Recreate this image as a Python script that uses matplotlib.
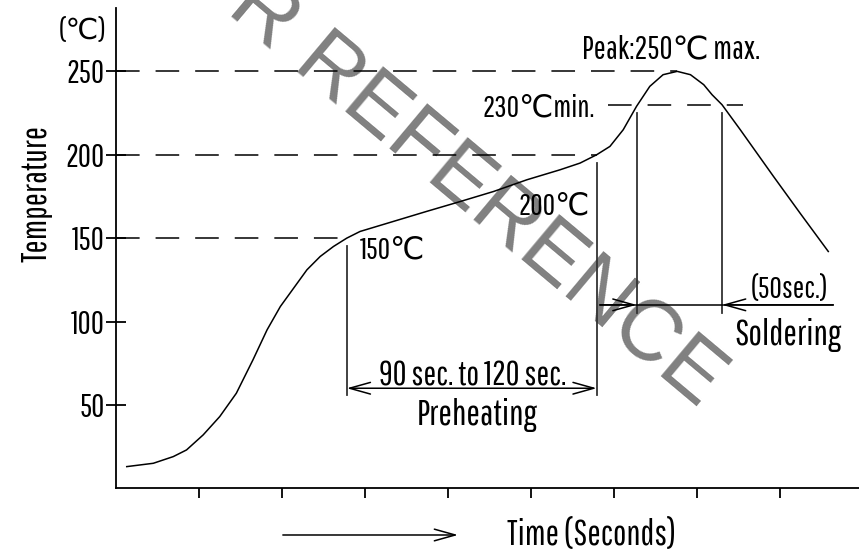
import matplotlib
matplotlib.use('Agg')
import matplotlib.pyplot as plt

# narrow monoline face like the drawing; later names only supply the ℃ sign
plt.rcParams['font.family'] = ['Pathway Gothic One', 'Fira Sans Extra Condensed',
                               'Sofia Sans Extra Condensed', 'Saira ExtraCondensed',
                               'Barlow Condensed', 'IBM Plex Sans Condensed', 'DejaVu Sans']
plt.rcParams['lines.scale_dashes'] = False

# reflow profile (time in tick units, temp in deg C)
time_pts = [0.13, 0.45, 0.69, 0.85, 1.05, 1.25, 1.45, 1.65, 1.82, 1.98,
            2.14, 2.30, 2.46, 2.62, 2.78, 2.94, 3.34, 3.74, 4.15, 4.55,
            4.95, 5.35, 5.59, 5.79, 5.95, 6.11, 6.27, 6.43, 6.59, 6.76,
            6.92, 7.08, 7.18, 7.30, 7.52, 7.92, 8.24, 8.58]
temp_pts = [13, 15, 19, 23, 32, 43, 57, 77, 95, 109,
            120, 131, 139, 145, 150, 154, 160, 166, 172, 178,
            185, 191, 195, 200, 205, 215, 229, 241, 248, 250,
            248, 242, 236, 230, 215, 187, 165, 142]

y_ticks = [50, 100, 150, 200, 250]
x_ticks = [1, 2, 3, 4, 5, 6, 7, 8]

# guide levels: (temp, x start, x end)
guides = [(250, 0, 6.76), (200, 0, 5.79), (150, 0, 2.78), (230, 5.93, 7.55)]
# vertical markers: (x, y top, y bottom)
markers = [(2.78, 145, 56), (5.79, 195, 56), (6.27, 225, 105), (7.30, 225, 105)]

preheat_x = (2.78, 5.79)
preheat_y = 60
solder_x = (6.27, 7.30)
solder_y = 110
solder_line = (5.83, 8.64)

fig = plt.figure(figsize=(8.59, 5.51), dpi=100)
ax = fig.add_axes([0.1350, 0.1138, 0.865, 0.8717])
ax.set_xlim(0, 8.95)
ax.set_ylim(0, 288)
for s in ['top', 'right']:
    ax.spines[s].set_visible(False)
for s in ['left', 'bottom']:
    ax.spines[s].set_linewidth(1.3)

ax.set_yticks(y_ticks)
ax.tick_params(axis='y', direction='inout', length=14, width=1.3, pad=1, labelsize=23)
ax.set_xticks(x_ticks)
ax.set_xticklabels([])
ax.tick_params(axis='x', direction='out', length=7.2, width=1.3)

ax.plot(time_pts, temp_pts, color='black', lw=1.1, zorder=3)

for t, x0, x1 in guides:
    ax.plot([x0, x1], [t, t], color='black', lw=1.1, ls=(0, (17, 11.5)), zorder=2)
for x, y0, y1 in markers:
    ax.plot([x, x], [y0, y1], color='#333333', lw=1.3, zorder=2)

head = 'head_length=1.5, head_width=0.42'
aprops = dict(arrowstyle='->, ' + head, color='black',
              lw=1.1, mutation_scale=10, shrinkA=0, shrinkB=0)
# preheating dimension line, heads on both ends
ax.annotate('', xy=(preheat_x[0], preheat_y), xytext=(preheat_x[1], preheat_y),
            arrowprops=dict(aprops, arrowstyle='<->, ' + head))
# soldering dimension line, heads pointing inward from outside
ax.plot(solder_line, [solder_y, solder_y], color='black', lw=1.1)
ax.annotate('', xy=(solder_x[0], solder_y), xytext=(solder_line[0], solder_y), arrowprops=aprops)
ax.annotate('', xy=(solder_x[1], solder_y), xytext=(solder_line[1], solder_y), arrowprops=aprops)
# time arrow below the axis
ax.annotate('', xy=(4.12, -28), xytext=(2.01, -28), arrowprops=aprops, annotation_clip=False)

ax.text(-0.40, 274, '(℃)', fontsize=21, ha='center', va='center')
ax.text(-0.96, 176.6, 'Temperature', fontsize=25, rotation=90, ha='center', va='center')
ax.text(2.94, 143, '150℃', fontsize=22, ha='left', va='center')
ax.text(5.71, 169, '200℃', fontsize=22, ha='right', va='center')
ax.text(5.77, 228, '230℃min.', fontsize=22, ha='right', va='center')
ax.text(6.69, 263, 'Peak:250℃ max.', fontsize=23, ha='center', va='center')
ax.text(4.30, 67.4, '90 sec. to 120 sec.', fontsize=24.5, ha='center', va='center')
ax.text(4.35, 44, 'Preheating', fontsize=26, ha='center', va='center')
ax.text(8.11, 119, '(50sec.)', fontsize=22, ha='center', va='center')
ax.text(8.10, 92, 'Soldering', fontsize=26, ha='center', va='center')
ax.text(5.73, -28, 'Time (Seconds)', fontsize=25.5, ha='center', va='center', clip_on=False)

# watermark, under the drawing
ax.text(430 / 859, 1 - 154 / 551, 'FOR REFERENCE', transform=fig.transFigure,
        rotation=-40, rotation_mode='anchor', ha='center', va='center',
        fontsize=62, color='#808080', family='Liberation Sans', zorder=0.5)

fig.savefig('out.png', dpi=100)
